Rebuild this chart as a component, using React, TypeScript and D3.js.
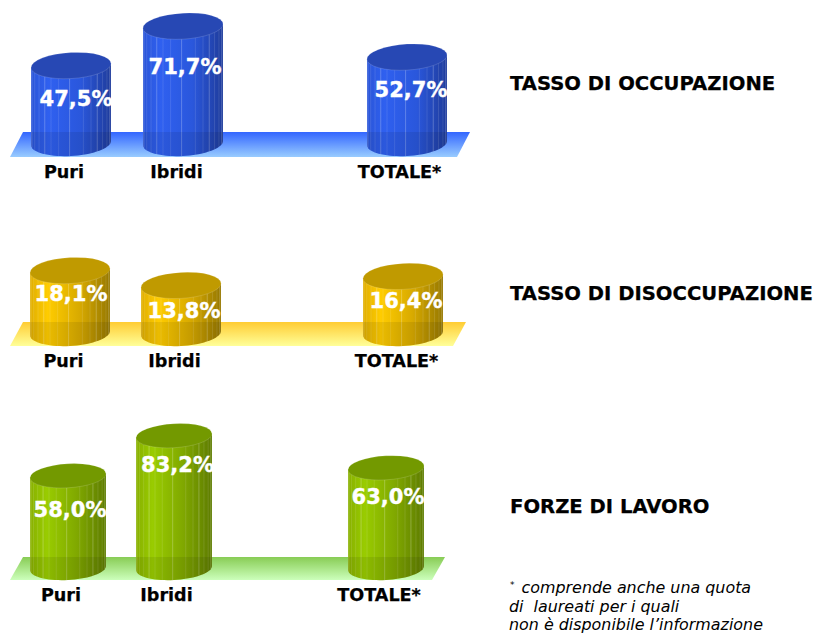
import React from "react";
import * as d3 from "d3";

const categories = ["Puri", "Ibridi", "TOTALE*"];
const occupazione = [47.5, 71.7, 52.7];
const disoccupazione = [18.1, 13.8, 16.4];
const forzeLavoro = [58.0, 83.2, 63.0];
const titles = ["TASSO DI OCCUPAZIONE", "TASSO DI DISOCCUPAZIONE", "FORZE DI LAVORO"];
const note = ["comprende anche una quota", "di  laureati per i quali", "non è disponibile l’informazione"];
const fmt = (v: number) => v.toFixed(1).replace(".", ",") + "%";

const font = "'DejaVu Sans', Verdana, sans-serif";

type Panel = {
  id: string; values: number[]; title: string; titleY: number;
  base: number; unit: number; cx: number[]; rx: number; ry: number;
  floorTop: number; floorBottom: number; floorRight: number;
  labelY: number; labelX: number[]; valueX: number[]; valueY: number[];
  stops: string[]; top: string; floor: [string, string];
};

const panels: Panel[] = [
  {
    id: "b", values: occupazione, title: titles[0], titleY: 90,
    base: 143, unit: 1.63, cx: [71, 183, 407], rx: 40, ry: 13,
    floorTop: 132, floorBottom: 157, floorRight: 470,
    labelY: 178, labelX: [64, 176.5, 399.5], valueX: [76, 185, 411], valueY: [106, 74, 97],
    stops: ["#2a55d8", "#2f60f0", "#2a57dc", "#1f3c9c"], top: "#2748b4", floor: ["#3366ff", "#99ccff"],
  },
  {
    id: "y", values: disoccupazione, title: titles[1], titleY: 300,
    base: 333, unit: 3.45, cx: [70, 181, 403], rx: 40, ry: 13,
    floorTop: 322, floorBottom: 346, floorRight: 466,
    labelY: 367, labelX: [63.5, 174.5, 396.5], valueX: [71, 184, 406], valueY: [301, 318, 308],
    stops: ["#e0ae00", "#ffcc00", "#d8aa00", "#967800"], top: "#c09a00", floor: ["#ffcc33", "#ffff99"],
  },
  {
    id: "g", values: forzeLavoro, title: titles[2], titleY: 513,
    base: 568, unit: 1.59, cx: [68, 174, 386], rx: 38, ry: 12,
    floorTop: 557, floorBottom: 580, floorRight: 445,
    labelY: 601, labelX: [61, 166.5, 379], valueX: [70, 177.5, 388], valueY: [517, 472, 504],
    stops: ["#88b000", "#99cc00", "#80a800", "#5e7c00"], top: "#739900", floor: ["#88cc55", "#ccffbb"],
  },
];

const stripeAngles = [168, 155, 143, 131, 120, 108, 92, 72, 60, 49, 38, 26, 14];
const skew = -3;

function bodyPath(rx: number, ry: number, h: number) {
  const q = d3.path();
  q.moveTo(-rx, -h);
  d3.range(0, 181, 5).forEach((a) => {
    const t = (a * Math.PI) / 180;
    q.lineTo(-rx * Math.cos(t), ry * Math.sin(t));
  });
  q.lineTo(rx, -h);
  q.closePath();
  return q.toString();
}

function Cylinder({ panel, value, cx, scale }: { panel: Panel; value: number; cx: number; scale: d3.ScaleLinear<number, number> }) {
  const h = panel.base - scale(value);
  const { rx, ry } = panel;
  return (
    <g transform={`translate(${cx},${panel.base}) skewY(${skew})`}>
      <path d={bodyPath(rx, ry, h)} fill={`url(#body-${panel.id})`} />
      {stripeAngles.map((a, i) => {
        const t = (a * Math.PI) / 180;
        const x = rx * Math.cos(t);
        const dy = ry * Math.sin(t);
        return (
          <line key={i} x1={x} x2={x} y1={-h + dy} y2={dy} stroke="#fff"
            strokeWidth={0.8} strokeOpacity={i % 3 === 0 ? 0.3 : 0.14} />
        );
      })}
      <ellipse cx={0} cy={-h} rx={rx} ry={ry} fill={panel.top} stroke="#fff" strokeOpacity={0.25} strokeWidth={0.6} />
    </g>
  );
}

export default function App() {
  return (
    <svg width={817} height={634} viewBox="0 0 817 634"
      style={{ position: "absolute", left: 0, top: 0, display: "block", background: "#fff" }}>
      <defs>
        {panels.map((p) => (
          <React.Fragment key={p.id}>
            <linearGradient id={`body-${p.id}`} x1="0" x2="1" y1="0" y2="0">
              {p.stops.map((c, i) => (
                <stop key={i} offset={[0, 0.22, 0.62, 1][i]} stopColor={c} />
              ))}
            </linearGradient>
            <linearGradient id={`floor-${p.id}`} x1="0" x2="0" y1="0" y2="1">
              <stop offset="0" stopColor={p.floor[0]} />
              <stop offset="1" stopColor={p.floor[1]} />
            </linearGradient>
            <clipPath id={`band-${p.id}`}>
              <rect x={0} y={p.floorTop} width={817} height={p.floorBottom - p.floorTop + 2} />
            </clipPath>
          </React.Fragment>
        ))}
      </defs>
      {panels.map((p) => {
        const scale = d3.scaleLinear().domain([0, 100]).range([p.base, p.base - 100 * p.unit]);
        const floor = d3.path();
        floor.moveTo(23, p.floorTop);
        floor.lineTo(p.floorRight, p.floorTop);
        floor.lineTo(p.floorRight - 13, p.floorBottom);
        floor.lineTo(10, p.floorBottom);
        floor.closePath();
        return (
          <g key={p.id}>
            <path d={floor.toString()} fill={`url(#floor-${p.id})`} />
            {p.values.map((v, i) => (
              <Cylinder key={i} panel={p} value={v} cx={p.cx[i]} scale={scale} />
            ))}
            <g clipPath={`url(#band-${p.id})`}>
              {p.values.map((v, i) => (
                <path key={i} transform={`translate(${p.cx[i]},${p.base}) skewY(${skew})`}
                  d={bodyPath(p.rx, p.ry, p.base - scale(v))} fill="#000" fillOpacity={0.08} />
              ))}
            </g>
            {p.values.map((v, i) => (
              <text key={i} x={p.valueX[i]} y={p.valueY[i]} textAnchor="middle" fill="#fff"
                stroke="#fff" strokeWidth={0.4}
                fontFamily={font} fontWeight="bold" fontSize={21}>{fmt(v)}</text>
            ))}
            {categories.map((c, i) => (
              <text key={c} x={p.labelX[i]} y={p.labelY} textAnchor="middle" fill="#000"
                stroke="#000" strokeWidth={0.25}
                fontFamily={font} fontWeight="bold" fontSize={17.6}>{c}</text>
            ))}
            <text x={510} y={p.titleY} fill="#000" stroke="#000" strokeWidth={0.25}
              fontFamily={font} fontWeight="bold" fontSize={19.6}>{p.title}</text>
          </g>
        );
      })}
      <text x={510} y={592.5} fontFamily={font} fontStyle="italic" fontSize={15.9} fill="#000">
        <tspan fontSize={9} dy={-5}>*</tspan>
        <tspan dy={5} dx={2}> {note[0]}</tspan>
      </text>
      <text x={509} y={611.5} xmlSpace="preserve" fontFamily={font} fontStyle="italic" fontSize={15.9} fill="#000">{note[1]}</text>
      <text x={509} y={630} fontFamily={font} fontStyle="italic" fontSize={15.9} fill="#000">{note[2]}</text>
    </svg>
  );
}
